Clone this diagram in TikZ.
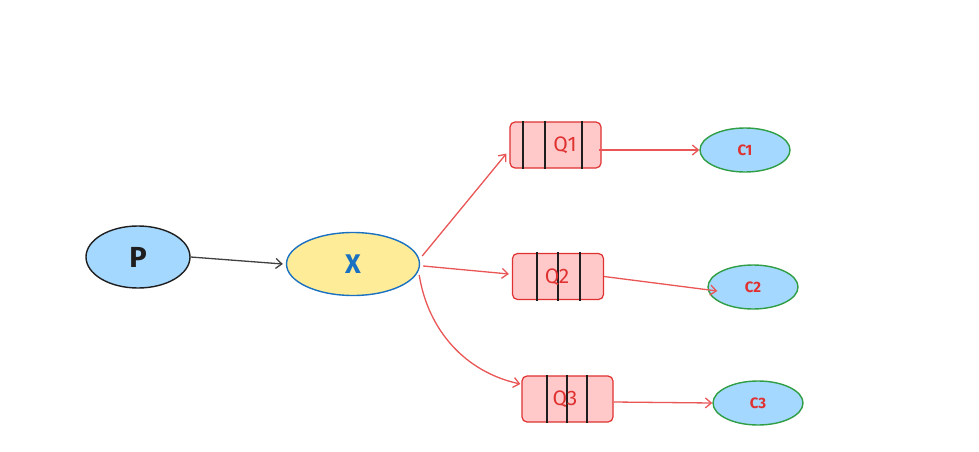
\documentclass[tikz,border=0pt]{standalone}
\usepackage{fontspec}
\setmainfont{Fira Sans}
\usetikzlibrary{shapes.geometric,arrows.meta}
\definecolor{pblue}{HTML}{A5D8FF}
\definecolor{xyellow}{HTML}{FFEC99}
\definecolor{xstroke}{HTML}{1971C2}
\definecolor{qfill}{HTML}{FFC9C9}
\definecolor{qred}{HTML}{E03131}
\definecolor{cgreen}{HTML}{2F9E44}
\definecolor{dark}{HTML}{1E1E1E}
\definecolor{arrred}{HTML}{EA5555}
\tikzset{
  ell/.style={ellipse, inner sep=0pt, line width=1.4pt},
  queue/.style={rectangle, rounded corners=5pt, draw=qred, fill=qfill, line width=1.2pt,
    minimum width=91pt, minimum height=46pt, inner sep=0pt},
  qtext/.style={text=qred, font=\fontsize{21}{21}\selectfont},
  cons/.style={ell, draw=cgreen, fill=pblue, minimum width=90pt, minimum height=44pt,
    text=qred, font=\fontsize{15}{15}\selectfont\bfseries},
  bar/.style={dark, line width=1.4pt},
  redarr/.style={draw=arrred, line width=1.3pt, -{Straight Barb[length=6pt,width=10pt]}},
}
\begin{document}
\begin{tikzpicture}[x=1pt,y=-1pt]
\useasboundingbox (0,0) rectangle (979,452);
\fill[white] (0,0) rectangle (979,452);
\node[ell, draw=dark, fill=pblue, minimum width=104pt, minimum height=62pt,
  font=\fontsize{29}{29}\selectfont\bfseries, text=dark] (P) at (138,257) {P};
\node[ell, draw=xstroke, fill=xyellow, minimum width=133pt, minimum height=63pt,
  font=\fontsize{27}{27}\selectfont\bfseries, text=xstroke] (X) at (353,264) {X};
% queues
\node[queue] (Q1) at (555.5,145) {};
\draw[bar] (523,121) -- (523,169) (545,121) -- (545,169) (582,121) -- (582,169);
\node[qtext] (Q1t) at (565,145) {Q1};
\node[queue] (Q2) at (558,276.5) {};
\draw[bar] (537,252) -- (537,301) (558,252) -- (558,301) (580,252) -- (580,301);
\node[qtext] (Q2t) at (557,277) {Q2};
\node[queue] (Q3) at (567.5,399) {};
\draw[bar] (547,375) -- (547,423) (567,375) -- (567,423) (587,375) -- (587,423);
\node[qtext] (Q3t) at (565,399) {Q3};
% consumers
\node[cons] (C1) at (745,150) {C1};
\node[cons] (C2) at (753,287) {C2};
\node[cons] (C3) at (758,403) {C3};
% arrows
\draw[draw=dark!85, line width=1.3pt, -{Straight Barb[length=6pt,width=10pt]}] (P.east) -- ([xshift=-3pt]X.west);
\draw[redarr] ([xshift=2pt,yshift=8pt]X.east) -- ([xshift=-3pt,yshift=15pt]Q1.south west);
\draw[redarr] ([xshift=3pt,yshift=-2pt]X.east) -- ([xshift=-3pt,yshift=2.5pt]Q2.west);
\draw[redarr] ([xshift=-1pt,yshift=-11pt]X.east) .. controls (428,330) and (465,372) .. ([xshift=-1pt,yshift=15pt]Q3.west);
\draw[redarr] ([xshift=-3pt,yshift=-5pt]Q1.east) -- (C1.west);
\draw[redarr] (Q2.east) -- ([xshift=10pt,yshift=-4pt]C2.west);
\draw[redarr] ([yshift=-3pt]Q3.east) -- (C3.west);
\end{tikzpicture}
\end{document}
